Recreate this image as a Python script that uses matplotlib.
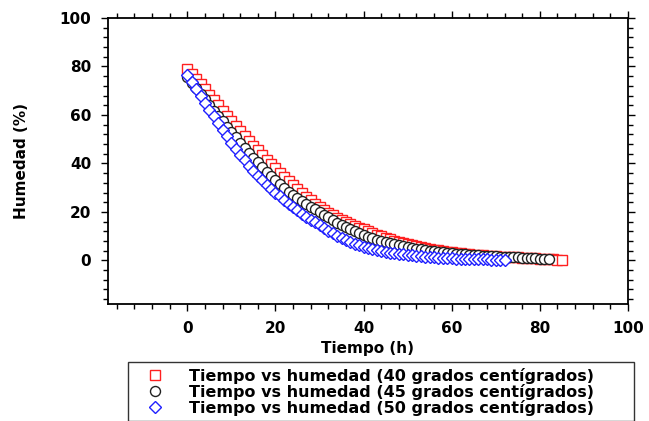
import matplotlib
matplotlib.use("Agg")
import matplotlib.pyplot as plt
from matplotlib.ticker import MultipleLocator

# humedad (%) cada hora
hum_40 = [79.0, 77.0, 74.9, 72.8, 70.6, 68.4, 66.2, 64.0, 61.8, 59.7,
          57.5, 55.4, 53.3, 51.3, 49.3, 47.3, 45.4, 43.5, 41.6, 39.8,
          38.0, 36.2, 34.4, 32.7, 31.0, 29.4, 27.8, 26.3, 24.8, 23.4,
          22.0, 20.8, 19.7, 18.6, 17.6, 16.7, 15.8, 15.0, 14.2, 13.5,
          12.8, 12.0, 11.3, 10.6, 9.9, 9.3, 8.7, 8.2, 7.6, 7.1,
          6.6, 6.2, 5.8, 5.4, 5.0, 4.7, 4.4, 4.1, 3.8, 3.5,
          3.3, 3.1, 2.9, 2.7, 2.5, 2.3, 2.2, 2.1, 1.9, 1.8,
          1.7, 1.6, 1.5, 1.4, 1.3, 1.2, 1.1, 1.0, 0.9, 0.8,
          0.7, 0.6, 0.5, 0.4, 0.3, 0.2]
hum_45 = [75.5, 73.3, 71.0, 68.7, 66.4, 64.1, 61.8, 59.6, 57.4, 55.2,
          53.0, 50.8, 48.6, 46.5, 44.4, 42.4, 40.4, 38.5, 36.6, 34.8,
          33.0, 31.4, 29.9, 28.4, 27.0, 25.7, 24.4, 23.2, 22.1, 21.0,
          20.0, 18.8, 17.7, 16.6, 15.6, 14.6, 13.7, 12.8, 12.0, 11.2,
          10.5, 9.8, 9.2, 8.6, 8.0, 7.5, 7.0, 6.6, 6.2, 5.8,
          5.4, 5.1, 4.8, 4.5, 4.2, 4.0, 3.7, 3.5, 3.3, 3.1,
          3.0, 2.8, 2.7, 2.5, 2.4, 2.3, 2.1, 2.0, 1.9, 1.8,
          1.7, 1.6, 1.5, 1.4, 1.3, 1.2, 1.1, 1.0, 0.9, 0.8,
          0.7, 0.6, 0.5]
hum_50 = [76.5, 73.6, 70.7, 67.8, 65.0, 62.2, 59.4, 56.6, 53.9, 51.2,
          48.5, 46.0, 43.6, 41.3, 39.1, 37.0, 35.0, 33.1, 31.3, 29.6,
          28.0, 26.4, 24.9, 23.4, 21.9, 20.6, 19.3, 18.0, 16.8, 15.7,
          14.5, 13.3, 12.2, 11.2, 10.2, 9.3, 8.4, 7.6, 6.9, 6.2,
          5.5, 5.0, 4.6, 4.2, 3.8, 3.5, 3.2, 2.9, 2.7, 2.5,
          2.3, 2.1, 1.9, 1.7, 1.5, 1.4, 1.3, 1.1, 1.0, 0.9,
          0.8, 0.7, 0.7, 0.6, 0.6, 0.5, 0.5, 0.4, 0.4, 0.3,
          0.3, 0.3, 0.2]
t_40 = list(range(len(hum_40)))
t_45 = list(range(len(hum_45)))
t_50 = list(range(len(hum_50)))

labels = ["Tiempo vs humedad (40 grados centígrados)",
          "Tiempo vs humedad (45 grados centígrados)",
          "Tiempo vs humedad (50 grados centígrados)"]

plt.rcParams['font.family'] = ['DejaVu Sans']
plt.rcParams['font.weight'] = 'bold'

fig = plt.figure(figsize=(6.49, 4.21), dpi=100)
ax = fig.add_axes([0.1664, 0.2779, 0.8012, 0.6793])

ax.plot(t_40, hum_40, ls='none', marker='s', ms=7.2, mfc='white',
        mec='#ff2020', mew=1.0, label=labels[0])
ax.plot(t_45, hum_45, ls='none', marker='o', ms=7.2, mfc='white',
        mec='#202020', mew=1.0, label=labels[1])
ax.plot(t_50, hum_50, ls='none', marker='D', ms=6.6, mfc='white',
        mec='#2020ff', mew=1.0, label=labels[2])

ax.set_xlim(-18, 100)
ax.set_ylim(-18, 100)
ax.xaxis.set_minor_locator(MultipleLocator(4))
ax.yaxis.set_minor_locator(MultipleLocator(4))
ax.set_xticks([0, 20, 40, 60, 80, 100])
ax.set_yticks([0, 20, 40, 60, 80, 100])

ax.tick_params(which='both', direction='out', top=True, right=True,
               width=1.0, labelsize=11)
ax.tick_params(which='major', length=5, pad=7)
ax.tick_params(which='minor', length=3.5)
for sp in ax.spines.values():
    sp.set_linewidth(1.3)

ax.set_xlabel("Tiempo (h)", fontsize=11, fontweight='bold', labelpad=4)
ax.set_ylabel("Humedad (%)", fontsize=11, fontweight='bold', labelpad=22)

leg = fig.legend(loc='upper left',
                 bbox_to_anchor=(128 / 649, 1 - 362 / 421, 506 / 649, 0),
                 mode='expand', numpoints=1, fontsize=11.5, frameon=True,
                 fancybox=False, edgecolor='black', borderaxespad=0,
                 borderpad=0.35, handlelength=2.7, handletextpad=0.75,
                 labelspacing=0.0)
leg.get_frame().set_linewidth(1.0)

fig.savefig("out.png", dpi=100)
